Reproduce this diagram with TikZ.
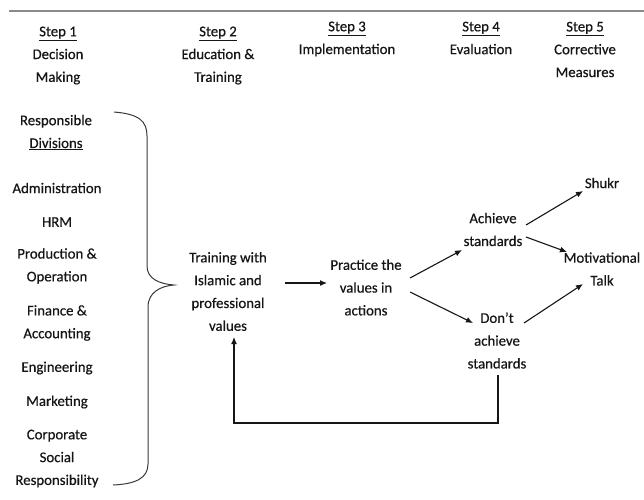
\documentclass[tikz,border=0pt]{standalone}
\usepackage{fontspec}
\setmainfont{Carlito}[FakeBold=0.5]
\usetikzlibrary{arrows.meta}
\definecolor{txt}{HTML}{161616}
\definecolor{rulegray}{HTML}{8A8A8A}
\tikzset{
  lbl/.style={align=center, inner sep=0pt, text=txt,
    font=\fontsize{14.8}{22.8}\selectfont},
  arr/.style={draw=txt, line width=1.1pt, -{Latex[length=7pt,width=6pt]}},
  bracepath/.style={draw=txt!85, line width=1pt},
}
\begin{document}
\begin{tikzpicture}[x=1pt,y=-1pt]
\useasboundingbox (0,0) rectangle (644,499);
\clip (0,0) rectangle (644,499);
\fill[white] (0,0) rectangle (644,499);
% top rule
\coordinate (ruleL) at (9,11);
\coordinate (ruleR) at (644,11);
\draw[rulegray, line width=1.4pt] (ruleL) -- (ruleR);
% step headers
\node[lbl] (s1) at (58,55.5) {\underline{Step 1}\\Decision\\Making};
\node[lbl] (s2) at (218,55.5) {\underline{Step 2}\\Education \&\\Training};
\node[lbl] (s3) at (347,39) {\underline{Step 3}\\Implementation};
\node[lbl] (s4) at (481,38) {\underline{Step 4}\\Evaluation};
\node[lbl] (s5) at (585,49.5) {\underline{Step 5}\\Corrective\\Measures};
% divisions
\node[lbl] (resp) at (56,132.5) {Responsible\\\underline{Divisions}};
\node[lbl] (adm) at (57,188) {Administration};
\node[lbl] (hrm) at (57,222) {HRM};
\node[lbl] (prod) at (57,266) {Production \&\\Operation};
\node[lbl] (fin) at (57,323) {Finance \&\\Accounting};
\node[lbl] (eng) at (57,368) {Engineering};
\node[lbl] (mkt) at (57,402) {Marketing};
\node[lbl] (csr) at (57,458.5) {Corporate\\Social\\Responsibility};
% brace
\coordinate (brTop) at (114,112);
\coordinate (brTip) at (174,285);
\coordinate (brBot) at (113,485);
\draw[bracepath] (brTop) .. controls (139,114) and (147,121) .. (147,136)
  -- (147,266) .. controls (147,279) and (160,284) .. (brTip)
  .. controls (161,286) and (148,292) .. (148,307)
  -- (148,464) .. controls (148,478) and (136,484) .. (brBot);
% flow nodes
\node[lbl] (train) at (228,291.5) {Training with\\Islamic and\\professional\\values};
\node[lbl] (prac) at (366,287.5) {Practice the\\values in\\actions};
\node[lbl] (ach) at (493,229.5) {Achieve\\standards};
\node[lbl] (dont) at (497,340.5) {Don’t\\achieve\\standards};
\node[lbl] (shukr) at (602,183) {Shukr};
\node[lbl] (motiv) at (602,269) {Motivational\\Talk};
% connectors
\draw[arr] ([shift={(57,-8.5)}]train.center) -- ([shift={(-39,-4.5)}]prac.center);
\draw[arr] ([shift={(44,-9.5)}]prac.center) -- ([shift={(-31,20.5)}]ach.center);
\draw[arr] ([shift={(44,4.5)}]prac.center) -- ([shift={(-24,-17.5)}]dont.center);
\draw[arr] ([shift={(33,-4.5)}]ach.center) -- ([shift={(-19,8)}]shukr.center);
\draw[arr] ([shift={(33,7.5)}]ach.center) -- ([shift={(-35,-17)}]motiv.center);
\draw[arr] ([shift={(27,-17.5)}]dont.center) -- ([shift={(-19,15)}]motiv.center);
\draw[arr] ([shift={(1,34.5)}]dont.center) -- ++(0,48) -| ([shift={(6,45.5)}]train.center);
\end{tikzpicture}
\end{document}
